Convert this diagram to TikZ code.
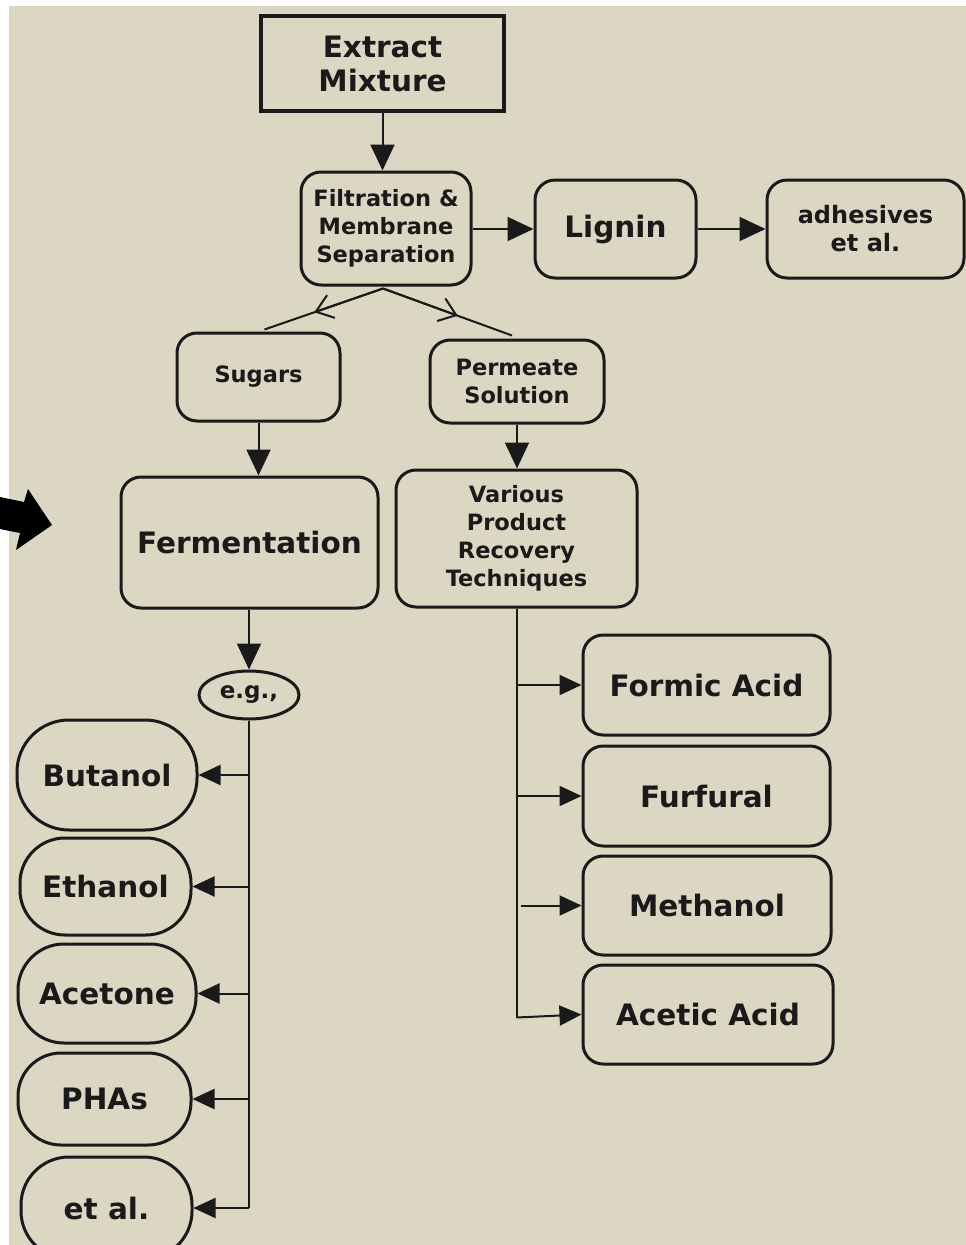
\documentclass[tikz,border=0pt]{standalone}
\usepackage{fontspec}
\setmainfont{DejaVu Sans}
\usetikzlibrary{arrows.meta,shapes.geometric,calc}
\definecolor{bg}{HTML}{DCD7C2}
\definecolor{ink}{HTML}{1A1A1A}
\begin{document}
\begin{tikzpicture}[x=1pt,y=-1pt,
  box/.style={draw=ink, line width=3pt, rounded corners=20pt, align=center, inner sep=0pt, text=ink},
  big/.style={font=\fontsize{29.5}{34}\selectfont\bfseries},
  small/.style={font=\fontsize{22.5}{28}\selectfont\bfseries},
  pill/.style={box, big},
  arr/.style={draw=ink, line width=2pt, -{Triangle[length=26pt,width=24pt]}},
  barr/.style={draw=ink, line width=2pt, -{Triangle[length=22pt,width=20pt]}},
  link/.style={draw=ink, line width=2pt},
  midarr/.style={draw=ink, line width=2pt, -{Straight Barb[length=16pt,width=24pt]}}]
\useasboundingbox (0,0) rectangle (966,1245);
\clip (0,0) rectangle (966,1245);
\fill[white] (0,0) rectangle (966,1245);
\fill[bg] (9,6) rectangle (966,1245);
% left block arrow
\fill[black] (0,497) -- (24,502) -- (28,489) -- (52,525) -- (16,550) -- (20,533) -- (0,529) -- cycle;

% nodes
\node[box, big, rounded corners=0pt, line width=4.5pt, minimum width=243pt, minimum height=95pt] (ext) at (382.5,63.5) {Extract\\Mixture};
\node[box, small, minimum width=170pt, minimum height=113pt] (filt) at (386,228.5) {Filtration \&\\Membrane\\Separation};
\node[box, big, minimum width=161pt, minimum height=98pt] (lig) at (615.5,229) {Lignin};
\node[box, font=\fontsize{24}{28}\selectfont\bfseries, minimum width=197pt, minimum height=98pt] (adh) at (865.5,229) {adhesives\\et al.};
\node[box, small, minimum width=163pt, minimum height=88pt] (sug) at (258.5,377) {Sugars};
\node[box, small, minimum width=174pt, minimum height=83pt] (perm) at (517,381.5) {Permeate\\Solution};
\node[box, big, minimum width=257pt, minimum height=131pt] (ferm) at (249.5,542.5) {Fermentation};
\node[box, small, minimum width=241pt, minimum height=137pt] (var) at (516.5,538.5) {Various\\Product\\Recovery\\Techniques};
\node[ellipse, draw=ink, line width=3pt, inner sep=0pt, minimum width=100pt, minimum height=48pt, text=ink, font=\fontsize{23}{28}\selectfont\bfseries] (eg) at (249,695) {e.g.,};

\node[pill, rounded corners=52pt, minimum width=180pt, minimum height=110pt] (but) at (107,775) {Butanol};
\node[pill, rounded corners=45pt, minimum width=171pt, minimum height=97pt] (eth) at (105.5,886.5) {Ethanol};
\node[pill, rounded corners=46pt, minimum width=178pt, minimum height=99pt] (ace) at (107,993.5) {Acetone};
\node[pill, rounded corners=43pt, minimum width=173pt, minimum height=92pt] (pha) at (104.5,1099) {PHAs};
\node[pill, rounded corners=48pt, minimum width=171pt, minimum height=102pt] (etal) at (106.5,1208) {et al.};

\node[box, big, minimum width=247pt, minimum height=100pt] (form) at (706.5,685) {Formic Acid};
\node[box, big, minimum width=247pt, minimum height=100pt] (furf) at (706.5,796) {Furfural};
\node[box, big, minimum width=248pt, minimum height=99pt] (meth) at (707,905.5) {Methanol};
\node[box, big, minimum width=250pt, minimum height=99pt] (acet) at (708,1014.5) {Acetic Acid};

% connectors
\draw[arr] (ext.south) -- (ext.south |- filt.north);
\draw[arr] (filt.east |- lig.west) -- (lig.west);
\draw[arr] (lig.east) -- (adh.west);

\coordinate (fs) at ($(filt.south)+(-3,2)$);
\coordinate (sn) at ($(sug.north)+(6,-2)$);
\coordinate (pn) at ($(perm.north)+(-5,-3)$);
\draw[link] (fs) -- (sn);
\draw[midarr] (fs) -- ($(fs)!0.58!(sn)$);
\draw[link] (fs) -- (pn);
\draw[midarr] (fs) -- ($(fs)!0.58!(pn)$);

\draw[arr] (sug.south) -- (sug.south |- ferm.north);
\draw[arr] (perm.south) -- (perm.south |- var.north);
\draw[arr] (ferm.south -| eg.north) -- (eg.north);

% left branch
\coordinate (lb) at (eg.south |- etal.east);
\draw[link] (eg.south) -- (lb);
\draw[barr] (eg.south |- but.east) -- (but.east);
\draw[barr] (eg.south |- eth.east) -- (eth.east);
\draw[barr] (eg.south |- ace.east) -- (ace.east);
\draw[barr] (eg.south |- pha.east) -- (pha.east);
\draw[barr] (lb) -- (etal.east);

% right branch
\coordinate (rb) at (var.south |- acet.west);
\draw[link] (var.south) -- ($(rb)+(0,3)$);
\draw[barr] (var.south |- form.west) -- (form.west);
\draw[barr] (var.south |- furf.west) -- (furf.west);
\draw[barr] ($(var.south |- meth.west)+(4,0)$) -- (meth.west);
\draw[barr] ($(rb)+(0,3)$) -- (acet.west);
\end{tikzpicture}
\end{document}
